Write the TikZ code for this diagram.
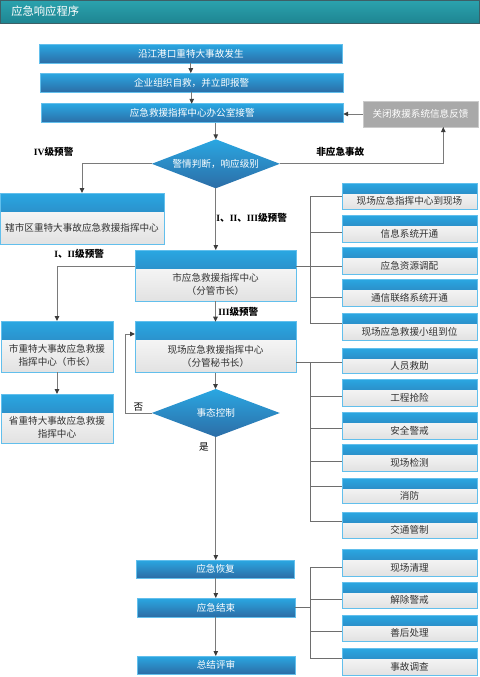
\documentclass[tikz,border=0pt]{standalone}
\usepackage{fontspec}
\setmainfont{Noto Sans CJK SC}
\newfontfamily\romfont{Liberation Serif}
\usetikzlibrary{shapes.geometric,arrows.meta,calc}

\definecolor{bluetop}{HTML}{2AA7E2}
\definecolor{bluebot}{HTML}{2C6DA6}
\definecolor{bluebd}{HTML}{62BFEC}
\definecolor{bodybot}{HTML}{E2E2E2}
\definecolor{tealtop}{HTML}{2BA3AE}
\definecolor{tealbot}{HTML}{1E8592}
\definecolor{tealbd}{HTML}{3D5F66}
\definecolor{grayfill}{HTML}{A9A9A9}
\definecolor{graybd}{HTML}{CACACA}
\definecolor{linec}{HTML}{6E6E6E}
\definecolor{arrc}{HTML}{7A7A7A}
\definecolor{tipc}{HTML}{3C3C3C}
\definecolor{txt}{HTML}{333333}

\newcommand\myrbox[5]{%
  \node[cbox=10pt, minimum width=135, minimum height=#3] (#1) at (409.5,#2) {};
  \node[btxt] (#1t) at (409.5,#4) {#5};}

\begin{document}
\begin{tikzpicture}[x=1pt,y=-1pt,
  every node/.style={font=\fontsize{9.6}{13}\selectfont, outer sep=0pt},
  bluebox/.style={rectangle, draw=bluebd, line width=0.7pt, top color=bluetop, bottom color=bluebot, text=white, inner sep=0pt},
  graybox/.style={rectangle, draw=graybd, line width=0.8pt, fill=grayfill, text=white, inner sep=0pt},
  titlebar/.style={rectangle, draw=tealbd, line width=0.8pt, top color=tealtop, bottom color=tealbot, inner sep=0pt},
  diam/.style={diamond, inner sep=0pt, top color=bluetop, bottom color=bluebot, draw=none},
  cbox/.style={rectangle, draw=bluebd, line width=0.8pt, top color=white, bottom color=bodybot, inner sep=0pt,
    path picture={\shade[top color=bluetop, bottom color=bluebot] (path picture bounding box.north west) rectangle ([yshift=-#1]path picture bounding box.north east);}},
  btxt/.style={text=txt},
  wtxt/.style={text=white},
  lbl/.style={text=black, font=\fontsize{9.6}{12}\selectfont\bfseries},
  arr/.style={draw=arrc, line width=1pt, -{Triangle[length=5pt,width=4.5pt,color=tipc]}},
  brk/.style={draw=linec, line width=0.9pt}
]
\useasboundingbox (0,0) rectangle (479,677);

% title
\node[titlebar, minimum width=479, minimum height=23, anchor=north west] (title) at (0,0) {};
\node[anchor=west, text=white, font=\fontsize{11.3}{13}\selectfont] (titletext) at (8,11.5) {应急响应程序};

% top chain
\node[bluebox, minimum width=303, minimum height=19] (b1) at (190.8,53.8) {沿江港口重特大事故发生};
\node[bluebox, minimum width=303, minimum height=19] (b2) at (191.7,82.7) {企业组织自救，并立即报警};
\node[bluebox, minimum width=302, minimum height=19] (b3) at (192.2,113.3) {应急救援指挥中心办公室接警};
\node[graybox, minimum width=115, minimum height=26] (fb) at (420.5,114) {关闭救援系统信息反馈};
\node[diam, minimum width=128, minimum height=49] (d1) at (215.8,163.8) {};
\node[wtxt] (d1t) at (d1.center) {警情判断，响应级别};

% labels
\node[lbl] (l4) at (53.7,151.7) {{\romfont\bfseries IV}级预警};
\node[lbl] (lnon) at (340.3,151.7) {非应急事故};
\node[lbl] (l123) at (251.7,217.7) {{\romfont\bfseries I}、{\romfont\bfseries II}、{\romfont\bfseries III}级预警};
\node[lbl] (l12) at (79.2,254) {{\romfont\bfseries I}、{\romfont\bfseries II}级预警};
\node[lbl] (l3) at (238.3,311.7) {{\romfont\bfseries III}级预警};
\node[text=black] (lno) at (138.5,406.7) {否};
\node[text=black] (lyes) at (204,447) {是};

% left boxes
\node[cbox=18pt, minimum width=164, minimum height=51] (L1) at (82,218.5) {};
\node[btxt] (L1t) at (82,227.5) {辖市区重特大事故应急救援指挥中心};
\node[cbox=18pt, minimum width=112, minimum height=51] (L2) at (57,346.5) {};
\node[btxt, align=center] (L2t) at (57,355.5) {市重特大事故应急救援\\指挥中心（市长）};
\node[cbox=18pt, minimum width=112, minimum height=49] (L3) at (57,418.5) {};
\node[btxt, align=center] (L3t) at (57,427.5) {省重特大事故应急救援\\指挥中心};

% middle boxes
\node[cbox=18.5pt, minimum width=161, minimum height=51] (M1) at (215.5,275.5) {};
\node[btxt, align=center] (M1t) at (215.5,284.3) {市应急救援指挥中心\\（分管市长）};
\node[cbox=18pt, minimum width=161, minimum height=51] (S1) at (215.5,347.2) {};
\node[btxt, align=center] (S1t) at (215.5,356.3) {现场应急救援指挥中心\\（分管秘书长）};
\node[diam, minimum width=128, minimum height=48] (d2) at (215.8,413) {};
\node[wtxt] (d2t) at (d2.center) {事态控制};

% bottom chain
\node[bluebox, minimum width=158, minimum height=18] (r1) at (215.5,569) {应急恢复};
\node[bluebox, minimum width=158, minimum height=19] (r2) at (216,607.5) {应急结束};
\node[bluebox, minimum width=158, minimum height=18] (r3) at (216,665) {总结评审};

% right boxes
\myrbox{A}{196}{26}{201}{现场应急指挥中心到现场}
\myrbox{B}{228.5}{27}{233.5}{信息系统开通}
\myrbox{C}{260.5}{27}{265.5}{应急资源调配}
\myrbox{D}{292.5}{27}{297.5}{通信联络系统开通}
\myrbox{E}{326.5}{27}{331.5}{现场应急救援小组到位}
\myrbox{F}{360.5}{25}{365.5}{人员救助}
\myrbox{G}{392.5}{27}{397.5}{工程抢险}
\myrbox{H}{425.5}{27}{430.5}{安全警戒}
\myrbox{I}{457.5}{27}{462.5}{现场检测}
\myrbox{J}{490.5}{25}{495.5}{消防}
\myrbox{K}{525}{26}{530}{交通管制}
\myrbox{Lc}{562.5}{27}{567.5}{现场清理}
\myrbox{Mc}{595}{26}{600}{解除警戒}
\myrbox{Nc}{628}{26}{633}{善后处理}
\myrbox{Oc}{661.5}{27}{666.5}{事故调查}

% arrows
\draw[arr] (b1.south) -- (b1.south |- b2.north);
\draw[arr] (b2.south) -- (b2.south |- b3.north);
\draw[arr] (d1.north |- b3.south) -- (d1.north);
\draw[arr] (fb.west) -- (fb.west -| b3.east);
\draw[arr] (d1.east) -| ($(fb.south)+(22.8,0)$);
\draw[arr] (d1.west) -| (L1.north);
\draw[arr] (d1.south) -- (d1.south |- M1.north);
\draw[arr] ($(M1.west)+(0,-9.5)$) -| (L2.north);
\draw[arr] (L2.south) -- (L3.north);
\draw[arr] (M1.south) -- (S1.north);
\draw[arr] (S1.south) -- (S1.south |- d2.north);
\draw[arr] (d2.west) -- ++(-26,0) |- ($(S1.west)+(0,-13.2)$);
\draw[arr] (d2.south) -- (d2.south |- r1.north);
\draw[arr] (d2.south |- r1.south) -- (d2.south |- r2.north);
\draw[arr] (d2.south |- r2.south) -- (d2.south |- r3.north);

% brackets
\coordinate (g1) at (310,0);
% group 1
\draw[brk] ($(M1.east)+(0,-9.5)$) coordinate (m1r) -- (m1r -| C.west);
\draw[brk] (g1 |- A.west) -- ($(g1 |- E.west)+(0,-3.5)$);
\draw[brk] (g1 |- A.west) -- (A.west);
\draw[brk] ($(g1 |- B.west)+(0,3.5)$) -- ($(B.west)+(0,3.5)$);
\draw[brk] ($(g1 |- D.west)+(0,4.5)$) -- ($(D.west)+(0,4.5)$);
\draw[brk] ($(g1 |- E.west)+(0,-3.5)$) -- ($(E.west)+(0,-3.5)$);
% group 2
\draw[brk] ($(S1.east)+(0,14.8)$) coordinate (s1r) -- (s1r -| F.west);
\draw[brk] (g1 |- s1r) -- ($(g1 |- K.west)+(0,-4)$);
\draw[brk] ($(g1 |- G.west)+(0,3.5)$) -- ($(G.west)+(0,3.5)$);
\draw[brk] ($(g1 |- H.west)+(0,2.5)$) -- ($(H.west)+(0,2.5)$);
\draw[brk] ($(g1 |- I.west)+(0,3.5)$) -- ($(I.west)+(0,3.5)$);
\draw[brk] ($(g1 |- J.west)+(0,-4.5)$) -- ($(J.west)+(0,-4.5)$);
\draw[brk] ($(g1 |- K.west)+(0,-4)$) -- ($(K.west)+(0,-4)$);
% group 3
\draw[brk] (r2.east) -- (r2.east -| g1);
\draw[brk] ($(g1 |- Lc.west)+(0,4.5)$) -- ($(g1 |- Oc.west)+(0,-3.5)$);
\draw[brk] ($(g1 |- Lc.west)+(0,4.5)$) -- ($(Lc.west)+(0,4.5)$);
\draw[brk] ($(g1 |- Mc.west)+(0,4)$) -- ($(Mc.west)+(0,4)$);
\draw[brk] ($(g1 |- Nc.west)+(0,3)$) -- ($(Nc.west)+(0,3)$);
\draw[brk] ($(g1 |- Oc.west)+(0,-3.5)$) -- ($(Oc.west)+(0,-3.5)$);
\end{tikzpicture}
\end{document}
